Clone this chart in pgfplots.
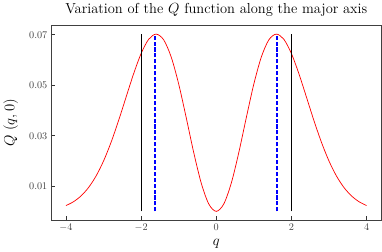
\documentclass[border=0pt]{standalone}
\usepackage{pgfplots}
\pgfplotsset{compat=1.18}
\definecolor{mplblue}{RGB}{0,0,255}
\definecolor{mplred}{RGB}{255,0,0}
\begin{document}
\begin{tikzpicture}
\begin{axis}[
  scale only axis,
  width=324pt, height=191pt,
  xmin=-4.4, xmax=4.4,
  ymin=-0.0035, ymax=0.0738,
  xtick={-4,-2,0,2,4},
  ytick={0.01,0.03,0.05,0.07},
  yticklabel style={/pgf/number format/fixed,/pgf/number format/precision=2,/pgf/number format/fixed zerofill, font=\fontsize{10}{12}\selectfont, text=black!75},
  xticklabel style={font=\fontsize{10}{12}\selectfont, text=black!75},
  scaled y ticks=false,
  tick align=inside,
  xtick pos=bottom, ytick pos=left,
  major tick length=4pt,
  tick style={black!80, line width=0.8pt},
  axis line style={black!75, line width=0.8pt},
  title={Variation of the $Q$ function along the major axis},
  title style={font=\fontsize{14.2}{16}\selectfont, yshift=-1pt},
  xlabel={$q$}, ylabel={$Q\ (q,0)$},
  xlabel style={font=\fontsize{15}{17}\selectfont, yshift=-1pt},
  ylabel style={font=\fontsize{15}{17}\selectfont, yshift=4pt},
]
\addplot[draw=mplred, line width=0.7pt, smooth] coordinates {
(-4.0,0.002306)(-3.8,0.003828)(-3.6,0.006124)(-3.4,0.009438)(-3.2,0.014001)
(-3.0,0.019973)(-2.8,0.027373)(-2.6,0.035988)(-2.4,0.045320)(-2.2,0.054550)
(-2.0,0.062590)(-1.8,0.068221)(-1.6,0.070303)(-1.4,0.068042)(-1.2,0.061249)
(-1.0,0.050511)(-0.8,0.037208)(-0.6,0.023349)(-0.4,0.011220)(-0.2,0.002940)
(0.0,0.0)
(0.2,0.002940)(0.4,0.011220)(0.6,0.023349)(0.8,0.037208)(1.0,0.050511)
(1.2,0.061249)(1.4,0.068042)(1.6,0.070303)(1.8,0.068221)(2.0,0.062590)
(2.2,0.054550)(2.4,0.045320)(2.6,0.035988)(2.8,0.027373)(3.0,0.019973)
(3.2,0.014001)(3.4,0.009438)(3.6,0.006124)(3.8,0.003828)(4.0,0.002306)
};
\addplot[draw=mplblue, line width=1.8pt, dash pattern=on 4pt off 1.8pt] coordinates {(-1.625,0) (-1.625,0.0703)};
\addplot[draw=mplblue, line width=1.8pt, dash pattern=on 4pt off 1.8pt] coordinates {(1.62,0) (1.62,0.0703)};
\addplot[draw=black, line width=0.9pt] coordinates {(-2,0) (-2,0.0705)};
\addplot[draw=black, line width=0.9pt] coordinates {(2,0) (2,0.0705)};
\end{axis}
\end{tikzpicture}
\end{document}
